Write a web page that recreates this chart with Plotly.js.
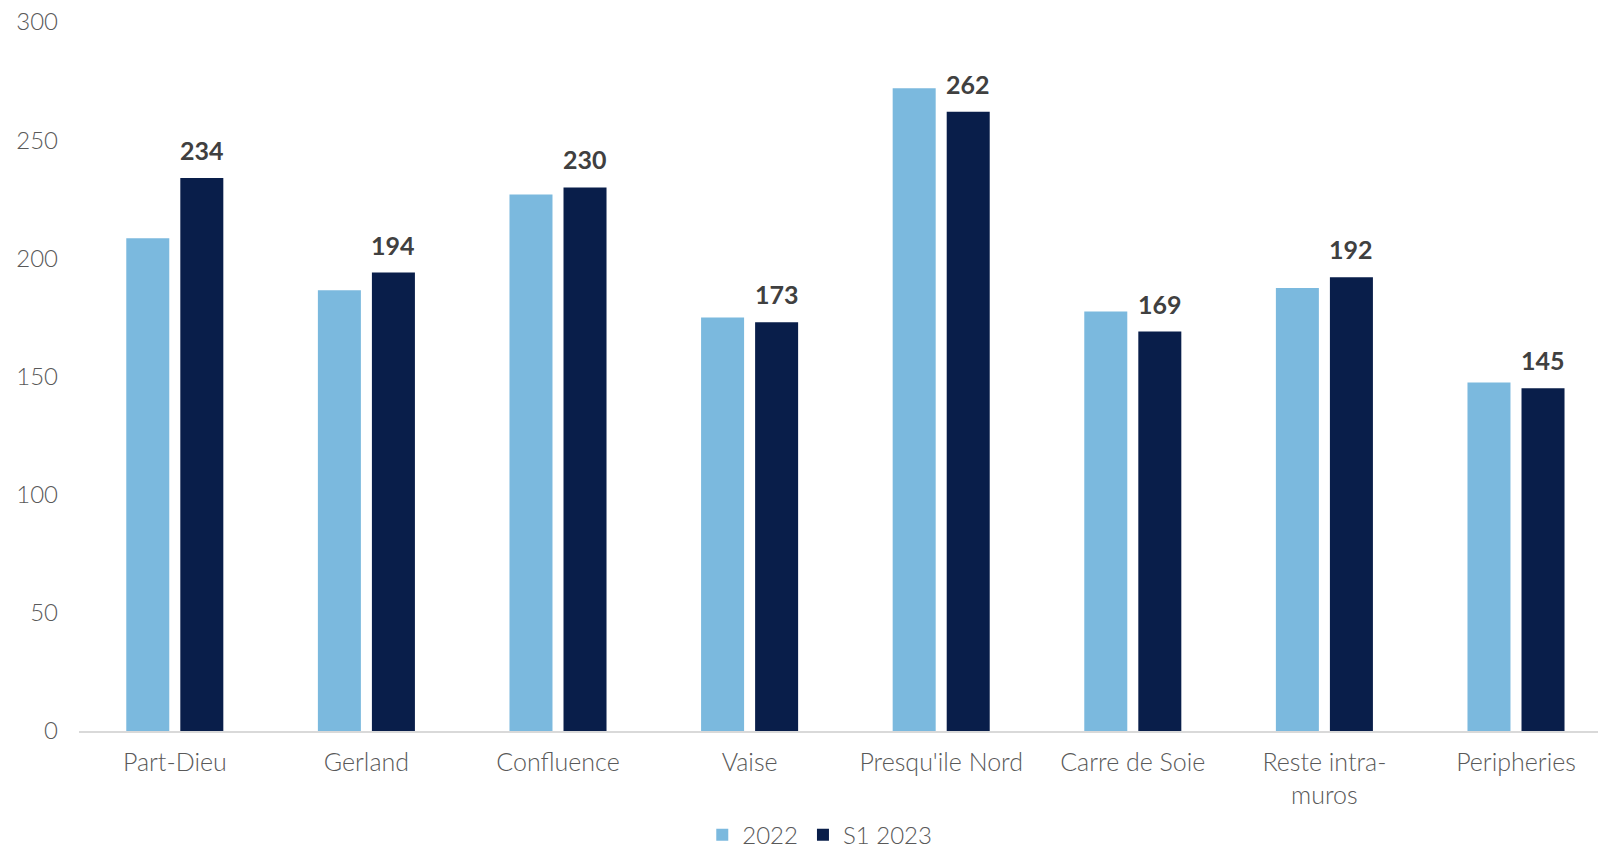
<!DOCTYPE html>
<html>
<head>
<meta charset="utf-8">
<script src="https://cdn.plot.ly/plotly-3.0.1.min.js"></script>
<style>
  html, body { margin: 0; padding: 0; background: #ffffff; overflow: hidden; }
  #chart { width: 1598px; height: 853px; }
</style>
</head>
<body>
<div id="chart"></div>
<script>
const categories = ["Part-Dieu", "Gerland", "Confluence", "Vaise", "Presqu'ile Nord", "Carre de Soie", "Reste intra-<br>muros", "Peripheries"];
const values2022 = [208.5, 186.5, 227, 175, 272, 177.5, 187.5, 147.5];
const valuesS12023 = [234, 194, 230, 173, 262, 169, 192, 145];
const seriesNames = ["2022", "S1 2023"];
const yTicks = [0, 50, 100, 150, 200, 250, 300];

const lightBlue = "#7BB9DE";
const navy = "#091E4A";
const tickColor = "#595959";
const labelColor = "#404040";
const fontFamily = "Lato, 'Open Sans', sans-serif";

const traces = [
  {
    type: "bar",
    name: seriesNames[0],
    x: categories,
    y: values2022,
    marker: { color: lightBlue },
    hoverinfo: "skip"
  },
  {
    type: "bar",
    name: seriesNames[1],
    x: categories,
    y: valuesS12023,
    marker: { color: navy },
    hoverinfo: "skip"
  }
];

const annotations = categories.map((c, i) => ({
  x: c,
  y: valuesS12023[i],
  xref: "x",
  yref: "y",
  text: String(valuesS12023[i]),
  showarrow: false,
  xanchor: "center",
  yanchor: "bottom",
  xshift: 27,
  yshift: 11,
  font: { family: fontFamily, size: 25, color: labelColor, weight: "bold" }
}));

const layout = {
  width: 1598,
  height: 853,
  paper_bgcolor: "#ffffff",
  plot_bgcolor: "#ffffff",
  margin: { l: 79, r: 0, t: 22, b: 122, pad: 0, autoexpand: false },
  barmode: "group",
  bargap: 0.436,
  bargroupgap: 0.204,
  showlegend: true,
  legend: {
    orientation: "h",
    xref: "container",
    yref: "container",
    x: 0.513,
    xanchor: "center",
    y: 0.021,
    yanchor: "middle",
    font: { family: fontFamily, size: 24, color: tickColor, weight: 300 },
    itemwidth: 30,
    traceorder: "normal"
  },
  xaxis: {
    type: "category",
    automargin: false,
    range: [-0.5, 7.428],
    showgrid: false,
    showline: true,
    linecolor: "#D9D9D9",
    linewidth: 2,
    ticks: "",
    ticklabelstandoff: 8,
    tickfont: { family: fontFamily, size: 25, color: tickColor, weight: 300 },
    zeroline: false
  },
  yaxis: {
    automargin: false,
    range: [0, 300],
    tickvals: yTicks,
    ticktext: yTicks.map(String),
    showgrid: false,
    showline: false,
    zeroline: false,
    ticks: "",
    ticklabelstandoff: 20,
    tickfont: { family: fontFamily, size: 24, color: tickColor, weight: 300 }
  },
  annotations: annotations
};

Plotly.newPlot("chart", traces, layout, { staticPlot: true, displayModeBar: false });
</script>
</body>
</html>
